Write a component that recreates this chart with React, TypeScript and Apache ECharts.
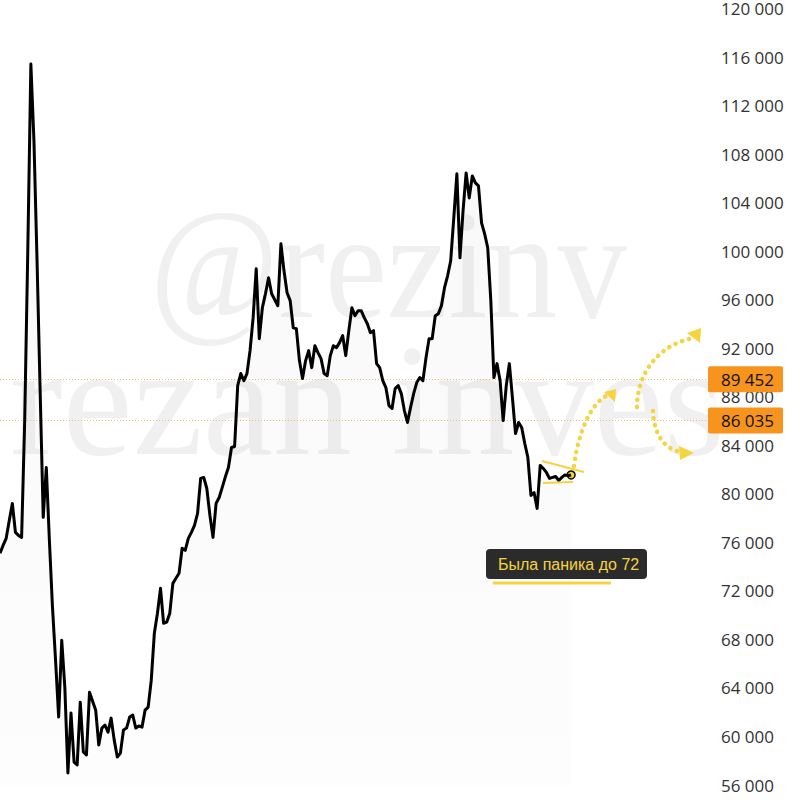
import React, { useEffect, useRef } from "react";
import * as echarts from "echarts";

// Price path (left to right)
const prices: number[] = [
  75100, 75750, 76330, 77810, 79210, 76820, 76570, 76410, 86040, 100030,
  115420, 109080, 99210, 88510, 78060, 82170, 76160, 70650, 66290, 61600,
  67930, 64070, 56990, 61930, 57890, 57650, 62830, 58720, 58470, 63650,
  62900, 62170, 59290, 60690, 60940, 60360, 61510, 59700, 58300, 58630,
  60530, 60690, 61600, 61760, 60690, 60860, 60770, 62170, 62420, 64640,
  68510, 70160, 72210, 69330, 69420, 70160, 72620, 73040, 73450, 75510,
  75340, 76330, 76820, 77400, 78390, 81270, 81350, 80440, 78220, 76410,
  79210, 79700, 80530, 81400, 82170, 83820, 83900, 88920, 89910, 89330,
  89910, 91800, 94520, 98550, 92790, 95340, 96500, 97810, 96490, 96000,
  95500, 100610, 98380, 96570, 95920, 93690, 93610, 90980, 89500, 90980,
  91800, 90400, 92210, 91640, 91140, 89910, 89740, 91390, 92210, 92050,
  92460, 93040, 91390, 93450, 95340, 94680, 95090, 95090, 94520, 94020,
  93280, 93450, 90730, 90400, 89330, 88760, 87270, 87030, 88670, 88920,
  88260, 86860, 85880, 87110, 88260, 89170, 89580, 89330, 91220, 92790,
  92790, 94680, 94850, 95500, 96990, 97970, 99210, 102750, 106370, 99450,
  103320, 106450, 104390, 106200, 105630, 105380, 102330, 101430, 100280, 95920,
  89580, 90730, 89330, 86040, 88920, 90730, 87930, 84970, 85880, 85460,
  84150, 82990, 79870, 80110, 78800, 82340, 82090, 81760, 81270, 81350,
  81430, 81100, 81350, 81555, 81500, 81555,
];

const levels: number[] = [89452, 86035];
const lastPrice = 81555;
const yMin = 56000;
const yMax = 120000;
const yStep = 4000;
const noteText = "Была паника до 72";
const watermarkTop = "@rezinv";
const watermarkBottom = "rezan invest";

const YELLOW = "#f5d442";
const ORANGE = "#f7941d";
const AXIS_FONT = '"Open Sans", "Noto Sans", sans-serif';

function fmt(v: number): string {
  const t = Math.floor(v / 1000);
  const r = String(Math.round(v % 1000)).padStart(3, "0");
  return `${t} ${r}`;
}

export default function App() {
  const ref = useRef<HTMLDivElement>(null);

  useEffect(() => {
    if (!ref.current) return;
    const chart = echarts.init(ref.current, undefined, { renderer: "svg" });

    const badge = (v: number, bg: string, fg: string, showLine: boolean) => ({
      yAxis: v,
      lineStyle: {
        type: [1, 2],
        color: "#f2bd72",
        width: 1,
        opacity: showLine ? 1 : 0,
      },
      label: {
        show: true,
        position: "end",
        distance: -2,
        formatter: fmt(v),
        backgroundColor: bg,
        color: fg,
        fontSize: 17,
        lineHeight: 18,
        fontFamily: AXIS_FONT,
        padding: [4, 9, 4, 13],
        borderRadius: 2,
      },
    });

    const dotted = {
      stroke: YELLOW,
      lineWidth: 4.5,
      lineDash: [0.1, 7],
      lineCap: "round",
      fill: null,
    };

    chart.setOption({
      animation: false,
      backgroundColor: "#ffffff",
      grid: { left: 0, right: 83, top: 7, bottom: 15, containLabel: false },
      xAxis: { type: "value", min: 0, max: 230, show: false },
      yAxis: {
        type: "value",
        position: "right",
        min: yMin,
        max: yMax,
        interval: yStep,
        axisLine: { show: false },
        axisTick: { show: false },
        splitLine: { show: false },
        axisLabel: {
          margin: 11,
          color: "#333",
          fontSize: 17,
          fontFamily: AXIS_FONT,
          formatter: (v: number) => fmt(v),
        },
      },
      graphic: [
        {
          type: "text",
          z: 0,
          x: 150,
          y: 265,
          scaleX: 0.9,
          silent: true,
          style: {
            text: watermarkTop,
            fill: "#f0f0f0",
            font: '155px "Liberation Serif", serif',
            textVerticalAlign: "middle",
          },
        },
        {
          type: "text",
          z: 0,
          x: 10,
          y: 400,
          silent: true,
          style: {
            text: watermarkBottom,
            fill: "#f0f0f0",
            font: '158px "Liberation Serif", serif',
            textVerticalAlign: "middle",
            width: 724,
            overflow: "truncate",
            ellipsis: "",
          },
        },
        { type: "line", z: 10, shape: { x1: 542, y1: 461, x2: 584, y2: 472 }, style: { stroke: YELLOW, lineWidth: 2 } },
        { type: "line", z: 10, shape: { x1: 543, y1: 483, x2: 573, y2: 482 }, style: { stroke: YELLOW, lineWidth: 2 } },
        {
          type: "bezierCurve",
          z: 10,
          shape: { x1: 574, y1: 466, cpx1: 579, cpy1: 428, cpx2: 592, cpy2: 404, x2: 606, y2: 396 },
          style: dotted,
        },
        { type: "polygon", z: 10, shape: { points: [[604, 392], [616, 389], [615, 402]] }, style: { fill: YELLOW } },
        {
          type: "bezierCurve",
          z: 10,
          shape: { x1: 689, y1: 339, cpx1: 660, cpy1: 346, cpx2: 636, cpy2: 372, x2: 637, y2: 410 },
          style: dotted,
        },
        { type: "polygon", z: 10, shape: { points: [[687, 333], [701, 328], [700, 343]] }, style: { fill: YELLOW } },
        {
          type: "bezierCurve",
          z: 10,
          shape: { x1: 653, y1: 411, cpx1: 654, cpy1: 436, cpx2: 665, cpy2: 449, x2: 681, y2: 452 },
          style: dotted,
        },
        { type: "polygon", z: 10, shape: { points: [[679, 446], [694, 453], [680, 460]] }, style: { fill: YELLOW } },
        { type: "rect", z: 10, shape: { x: 486, y: 549, width: 161, height: 30, r: 4 }, style: { fill: "#2b2b2b" } },
        {
          type: "text",
          z: 11,
          x: 498,
          y: 564,
          style: {
            text: noteText,
            fill: YELLOW,
            font: '16px "Liberation Sans", Arial, sans-serif',
            textVerticalAlign: "middle",
          },
        },
        { type: "line", z: 10, shape: { x1: 493, y1: 583, x2: 611, y2: 583 }, style: { stroke: YELLOW, lineWidth: 3 } },
      ],
      series: [
        {
          type: "line",
          data: prices.map((v, i) => [i, v]),
          showSymbol: false,
          symbol: "none",
          clip: false,
          z: 5,
          lineStyle: { color: "#000", width: 3, join: "round" },
          areaStyle: {
            color: new echarts.graphic.LinearGradient(0, 0, 0, 1, [
              { offset: 0, color: "rgba(0,0,0,0.04)" },
              { offset: 1, color: "rgba(0,0,0,0.012)" },
            ]),
          },
          markLine: {
            silent: true,
            symbol: ["none", "none"],
            data: [
              badge(levels[0], ORANGE, "#111", true),
              badge(levels[1], ORANGE, "#111", true),
              badge(lastPrice, "#000", "#fff", false),
            ],
          },
          markPoint: {
            silent: true,
            data: [
              {
                coord: [prices.length - 1, lastPrice],
                symbol: "circle",
                symbolSize: 8,
                itemStyle: { color: YELLOW, borderColor: "#111", borderWidth: 1.5 },
                label: { show: false },
              },
            ],
          },
        },
      ],
    });

    return () => chart.dispose();
  }, []);

  return (
    <div
      ref={ref}
      style={{ position: "fixed", left: 0, top: 0, width: 793, height: 800 }}
    />
  );
}
